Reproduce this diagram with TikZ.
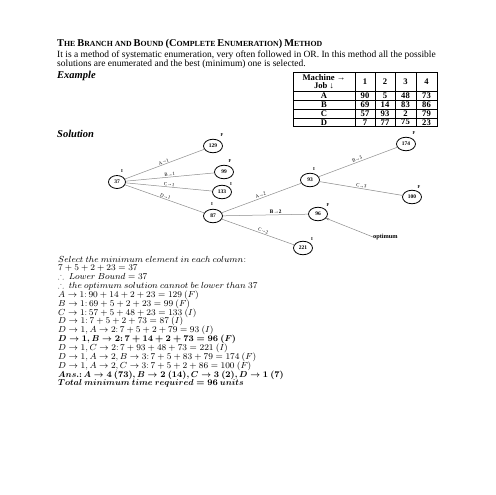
\RequirePackage{fix-cm}
\documentclass[tikz,border=0pt]{standalone}
\usepackage{amssymb}
\usepackage{fontspec}
\setmainfont{Liberation Serif}
\usetikzlibrary{shapes.geometric,arrows.meta}
\newcommand\capL[1]{{\fontsize{10.4}{10}\selectfont #1}}
\begin{document}
\begin{tikzpicture}[x=1pt,y=-1pt,
  st/.style={draw, ellipse, line width=0.8pt, minimum width=19pt, minimum height=13.5pt, inner sep=0pt, font=\fontsize{5.5}{6}\selectfont\bfseries},
  edge/.style={draw=black!45, line width=0.5pt},
  elab/.style={sloped, above, inner sep=0.8pt, font=\fontsize{4.8}{5}\selectfont},
  flag/.style={font=\fontsize{4.5}{4.5}\selectfont\bfseries, inner sep=0pt},
  cell/.style={font=\fontsize{8.6}{8.4}\selectfont\bfseries, inner sep=0pt, align=center},
  txt/.style={anchor=base west, inner sep=0pt},
  calcfont/.style={font=\fontsize{8.8}{9}\selectfont},
  boldfont/.style={font=\fontsize{8.6}{9}\selectfont}]
\useasboundingbox (0,0) rectangle (495,495);
\fill[white] (0,0) rectangle (495,495);

% heading
\node[txt] (title) at (57,47) {\bfseries\fontsize{7.8}{10}\selectfont \capL{T}HE \capL{B}RANCH AND \capL{B}OUND \capL{(C}OMPLETE \capL{E}NUMERATION\capL{)} \capL{M}ETHOD};
\node[txt, font=\fontsize{9.5}{9.6}\selectfont] (intro1) at (57,57) {It is a method of systematic enumeration, very often followed in OR. In this method all the possible};
\node[txt, font=\fontsize{9.5}{9.6}\selectfont] (intro2) at (57,66.5) {solutions are enumerated and the best (minimum) one is selected.};
\node[txt, font=\fontsize{10.5}{10}\selectfont\bfseries\itshape] (example) at (57,78) {Example};

% table
\draw[line width=0.6pt] (293,72) rectangle (437,126);
\foreach \yy in {91,100,109,118} \draw[line width=0.6pt] (293,\yy) -- (437,\yy);
\foreach \xx in {355,375,395,416} \draw[line width=0.6pt] (\xx,72) -- (\xx,126);
\node[cell] (hd) at (324,81.5) {Machine →\\Job ↓};
\node[cell] (h1) at (365,81.5) {1};
\node[cell] (h2) at (385,81.5) {2};
\node[cell] (h3) at (405.5,81.5) {3};
\node[cell] (h4) at (426.5,81.5) {4};
\foreach \r/\yy/\a/\b/\c/\d in {A/95.5/90/5/48/73, B/104.5/69/14/83/86, C/113.5/57/93/2/79, D/122.2/7/77/75/23}{
  \node[cell] (r\r) at (324,\yy) {\r};
  \node[cell] (r\r1) at (365,\yy) {\a};
  \node[cell] (r\r2) at (385,\yy) {\b};
  \node[cell] (r\r3) at (405.5,\yy) {\c};
  \node[cell] (r\r4) at (426.5,\yy) {\d};
}

\node[txt, font=\fontsize{10.5}{10}\selectfont\bfseries\itshape] (solution) at (57,137.5) {Solution};

% tree
\node[st, minimum width=17pt, minimum height=13pt] (n37) at (117,182) {37};
\node[st] (n129) at (213,146) {129};
\node[st] (n99) at (224,172) {99};
\node[st] (n133) at (222,192) {133};
\node[st] (n87) at (213,216) {87};
\node[st] (n93) at (310,180) {93};
\node[st] (n174) at (406,144) {174};
\node[st] (n100) at (412,197) {100};
\node[st] (n96) at (318,214) {96};
\node[st] (n221) at (303,248) {221};

\draw[edge] (n37) -- node[elab] {A→1} (n129);
\draw[edge] (n37) -- node[elab] {B→1} (n99);
\draw[edge] (n37) -- node[elab] {C→1} (n133);
\draw[edge] (n37) -- node[elab] {D→1} (n87);
\draw[edge] (n87) -- node[elab] {A→2} (n93);
\draw[edge] (n87) -- node[elab, pos=0.62, font=\fontsize{5.3}{5}\selectfont\bfseries] {B→2} (n96);
\draw[edge] (n87) -- node[elab, pos=0.56] {C→2} (n221);
\draw[edge] (n93) -- node[elab] {B→3} (n174);
\draw[edge] (n93) -- node[elab] {C→3} (n100);

\node[flag] (f37) at (122,171) {I};
\node[flag] (f129) at (222,135) {F};
\node[flag] (f99) at (230,161) {F};
\node[flag] (f133) at (231,184) {I};
\node[flag] (f87) at (212,204) {I};
\node[flag] (f93) at (314,169) {I};
\node[flag] (f174) at (414,133) {F};
\node[flag] (f100) at (419,187) {F};
\node[flag] (f96) at (328,205) {F};
\node[flag] (f221) at (312,239) {I};

\node[anchor=west, inner sep=0pt, font=\fontsize{6.3}{6}\selectfont\bfseries] (opt) at (373,237) {optimum};
\draw[edge, -{Stealth[length=3pt,width=2.5pt,fill=black]}] (opt.west) -- (n96.-28);

% calculations
\node[txt, calcfont] (c1) at (58,262) {$Select\ the\ minimum\ element\ in\ each\ column{:}$};
\node[txt, calcfont] (c2) at (58,270.85) {$7+5+2+23=37$};
\node[txt, calcfont] (c3) at (58,279.7) {$\therefore\ Lower\ Bound=37$};
\node[txt, calcfont] (c4) at (58,288.55) {$\therefore\ the\ optimum\ solution\ cannot\ be\ lower\ than\ 37$};
\node[txt, calcfont] (c5) at (58,297.4) {$A\rightarrow1{:}\,90+14+2+23=129\ (F)$};
\node[txt, calcfont] (c6) at (58,306.25) {$B\rightarrow1{:}\,69+5+2+23=99\ (F)$};
\node[txt, calcfont] (c7) at (58,315.1) {$C\rightarrow1{:}\,57+5+48+23=133\ (I)$};
\node[txt, calcfont] (c8) at (58,323.95) {$D\rightarrow1{:}\,7+5+2+73=87\ (I)$};
\node[txt, calcfont] (c9) at (58,332.8) {$D\rightarrow1,A\rightarrow2{:}\,7+5+2+79=93\ (I)$};
\node[txt, boldfont] (c10) at (58,341.65) {{\boldmath$D\rightarrow1,B\rightarrow2{:}\,7+14+2+73=96\ (F)$}};
\node[txt, calcfont] (c11) at (58,350.5) {$D\rightarrow1,C\rightarrow2{:}\,7+93+48+73=221\ (I)$};
\node[txt, calcfont] (c12) at (58,359.35) {$D\rightarrow1,A\rightarrow2,B\rightarrow3{:}\,7+5+83+79=174\ (F)$};
\node[txt, calcfont] (c13) at (58,368.2) {$D\rightarrow1,A\rightarrow2,C\rightarrow3{:}\,7+5+2+86=100\ (F)$};
\node[txt, boldfont] (c14) at (58,377.05) {{\boldmath$Ans.{:}\,A\rightarrow4\ (73),B\rightarrow2\ (14),C\rightarrow3\ (2),D\rightarrow1\ (7)$}};
\node[txt, boldfont] (c15) at (58,385.9) {{\boldmath$Total\ minimum\ time\ required=96\ units$}};
\end{tikzpicture}
\end{document}
